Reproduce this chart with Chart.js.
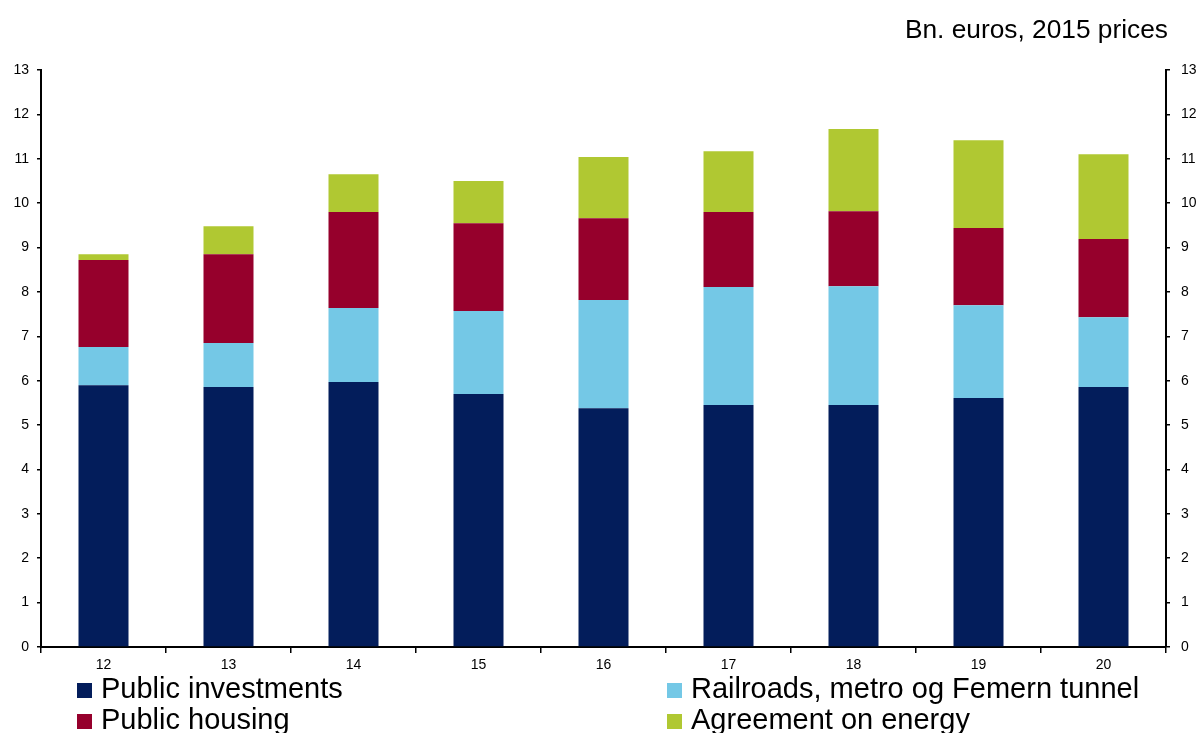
<!DOCTYPE html>
<html>
<head>
<meta charset="utf-8">
<script src="https://cdn.jsdelivr.net/npm/chart.js@4/dist/chart.umd.min.js"></script>
<style>
  html, body { margin: 0; padding: 0; background: #fff; }
  #wrap { position: relative; width: 1201px; height: 733px; overflow: hidden; font-family: "Liberation Sans", Arial, sans-serif; }
  #c { position: absolute; left: 0; top: 0; }
  #title { position: absolute; right: 33px; top: 16px; font-size: 26.3px; line-height: 26px; color: #000; white-space: nowrap; }
  .leg { position: absolute; font-size: 29px; line-height: 29px; color: #000; white-space: nowrap; }
  .sw { position: absolute; width: 15px; height: 15px; }
</style>
</head>
<body>
<div id="wrap">
  <canvas id="c" width="1201" height="733"></canvas>
  <div id="title">Bn. euros, 2015 prices</div>
  <div id="legend"></div>
</div>
<script>
const categories = ["12", "13", "14", "15", "16", "17", "18", "19", "20"];
const publicInvestments = [5.90, 5.86, 5.97, 5.70, 5.38, 5.45, 5.45, 5.61, 5.86];
const railroads = [0.86, 0.99, 1.67, 1.87, 2.44, 2.66, 2.68, 2.09, 1.57];
const publicHousing = [1.96, 2.00, 2.16, 1.98, 1.84, 1.69, 1.69, 1.74, 1.76];
const energyAgreement = [0.13, 0.63, 0.85, 0.95, 1.38, 1.37, 1.85, 1.98, 1.91];
const seriesLabels = ["Public investments", "Railroads, metro og Femern tunnel", "Public housing", "Agreement on energy"];
const yTicks = [0, 1, 2, 3, 4, 5, 6, 7, 8, 9, 10, 11, 12, 13];

const colors = ["#031D5B", "#74C8E6", "#96002C", "#B0C832"];
const FONT = "'Liberation Sans', Arial, sans-serif";

const datasets = [publicInvestments, railroads, publicHousing, energyAgreement].map((d, i) => ({
  label: seriesLabels[i],
  data: d,
  backgroundColor: colors[i],
  borderWidth: 0,
  categoryPercentage: 1.0,
  barPercentage: 0.4,
  yAxisID: 'y'
}));

const yAxisCommon = {
  min: 0, max: 13,
  afterBuildTicks: (s) => { s.ticks = yTicks.map(v => ({ value: v })); },
  grid: { drawOnChartArea: false, color: '#000', lineWidth: 1.5, tickLength: 4 },
  border: { color: '#000', width: 2 },
  ticks: { color: '#000', font: { family: FONT, size: 14 } }
};

const chart = new Chart(document.getElementById('c'), {
  type: 'bar',
  data: { labels: categories, datasets },
  options: {
    responsive: false,
    animation: false,
    devicePixelRatio: 1,
    layout: { padding: { top: 70, left: 0, right: 0, bottom: 0 } },
    plugins: { legend: { display: false }, tooltip: { enabled: false }, title: { display: false } },
    scales: {
      x: {
        stacked: true,
        offset: true,
        grid: { offset: true, drawOnChartArea: false, color: '#000', lineWidth: 1.5, tickLength: 6 },
        border: { color: '#000', width: 2 },
        ticks: { color: '#000', font: { family: FONT, size: 14 }, padding: 4, maxRotation: 0 },
        afterFit: (s) => { s.height = 86; }
      },
      y: Object.assign({}, yAxisCommon, {
        position: 'left',
        stacked: true,
        ticks: Object.assign({}, yAxisCommon.ticks, { padding: 8 }),
        afterFit: (s) => { s.width = 41; }
      }),
      y1: Object.assign({}, yAxisCommon, {
        position: 'right',
        ticks: Object.assign({}, yAxisCommon.ticks, { padding: 11 }),
        afterFit: (s) => { s.width = 35; }
      })
    }
  }
});

// HTML legend built from chart datasets
const legend = document.getElementById('legend');
const legPos = [
  { x: 77, top: 673.5 },   // Public investments
  { x: 667, top: 673.5 },  // Railroads
  { x: 77, top: 704.5 },   // Public housing
  { x: 667, top: 704.5 }   // Agreement on energy
];
chart.data.datasets.forEach((ds, i) => {
  const p = legPos[i];
  const sw = document.createElement('div');
  sw.className = 'sw';
  sw.style.left = p.x + 'px';
  sw.style.top = (p.top + 9.5) + 'px';
  sw.style.background = ds.backgroundColor;
  legend.appendChild(sw);
  const t = document.createElement('div');
  t.className = 'leg';
  t.style.left = (p.x + 24) + 'px';
  t.style.top = p.top + 'px';
  t.textContent = ds.label;
  legend.appendChild(t);
});
</script>
</body>
</html>
